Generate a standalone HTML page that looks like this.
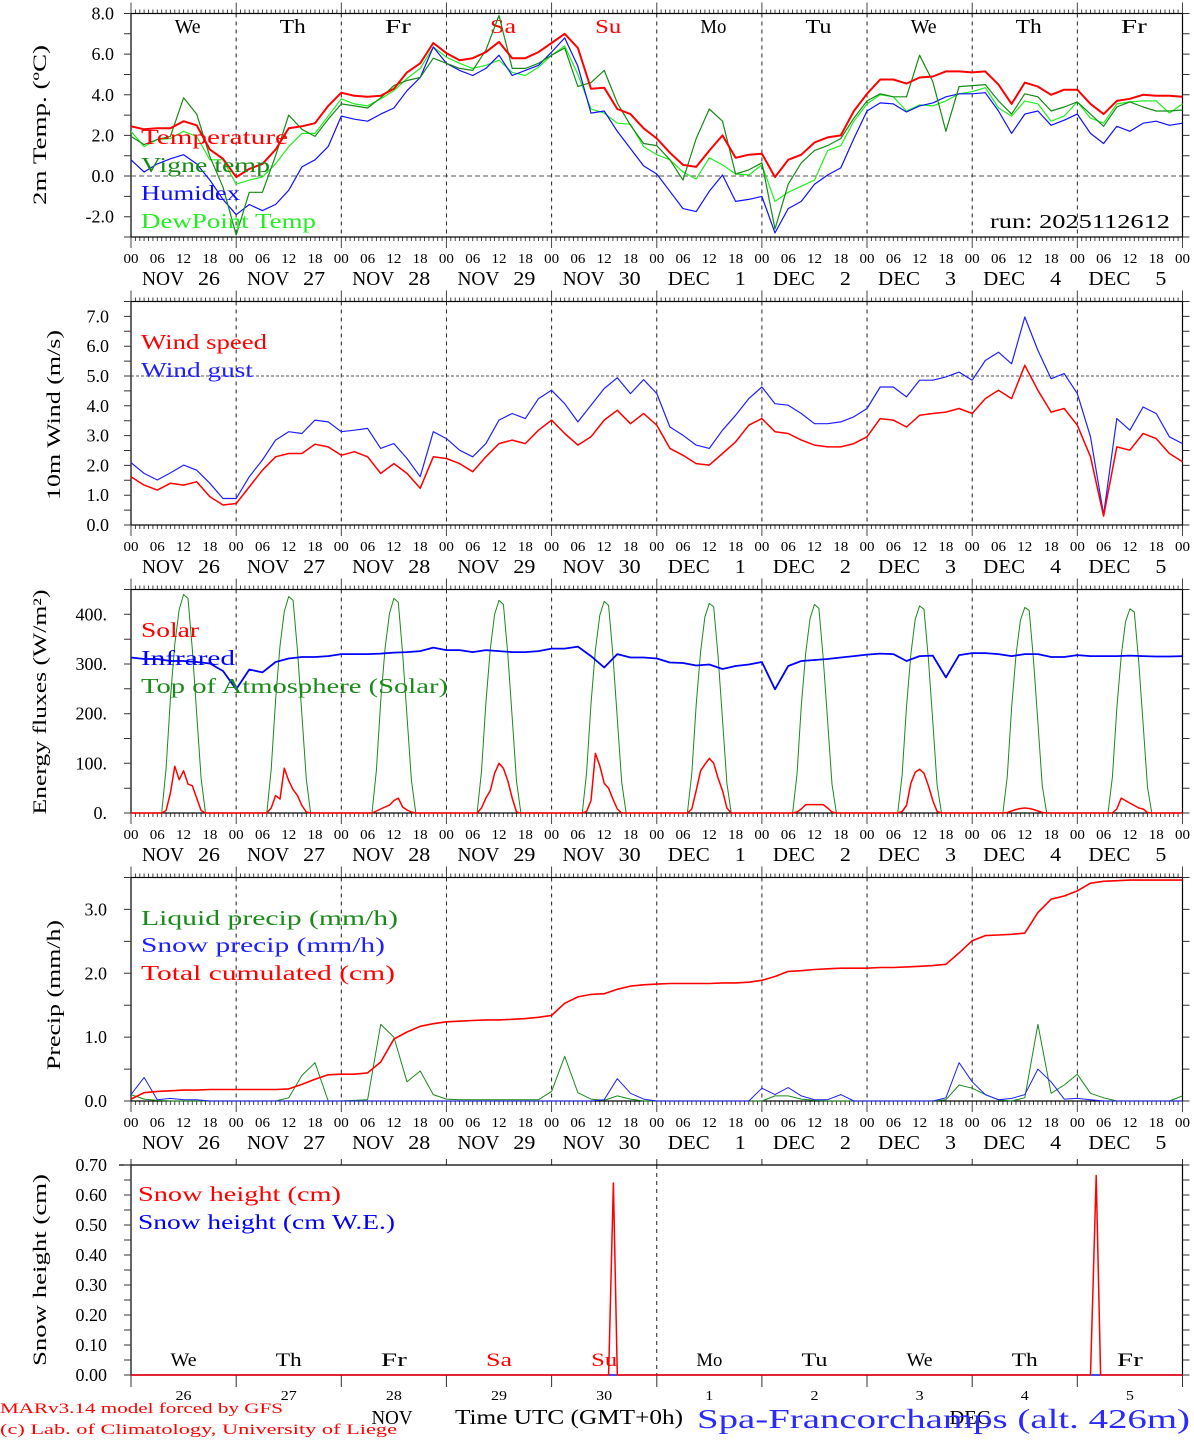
<!DOCTYPE html>
<html><head><meta charset="utf-8"><title>MAR forecast - Spa-Francorchamps</title>
<style>
html,body{margin:0;padding:0;background:#fff;}
svg{display:block;font-family:"Liberation Serif",serif;}
</style></head>
<body>
<svg id="chart" xmlns="http://www.w3.org/2000/svg" width="1194" height="1440" viewBox="0 0 1194 1440"></svg>
<script>
// ---- data (3-hourly, hours 0..240) ----
const dayNames = ["We","Th","Fr","Sa","Su","Mo","Tu","We","Th","Fr"];
const dayNameColors = ["#000","#000","#000","#f00","#f00","#000","#000","#000","#000","#000"];
const dateMonths = ["NOV","NOV","NOV","NOV","NOV","DEC","DEC","DEC","DEC","DEC"];
const dateNums = ["26","27","28","29","30","1","2","3","4","5"];
const hourTickLabels = ["00","06","12","18"];

const temperature = [2.45,2.3,2.35,2.35,2.7,2.5,1.3,0.85,
 -0.05,0.35,0.6,1.3,2.35,2.45,2.6,3.45,
 4.1,3.95,3.9,3.95,4.3,5.1,5.55,6.55,
 6.05,5.7,5.8,6.1,6.6,5.8,5.8,6.1,
 6.55,7.0,6.3,4.3,4.35,3.3,3.05,2.35,
 1.85,1.15,0.55,0.45,1.25,2.0,0.9,1.05,
 1.1,-0.05,0.8,1.05,1.65,1.9,2.0,3.2,
 4.05,4.75,4.75,4.55,4.85,4.9,5.15,5.15,
 5.1,5.15,4.5,3.55,4.6,4.4,4.0,4.25,
 4.25,3.55,3.05,3.7,3.8,4.0,3.95,3.95,3.9];
const vigneTemp = [1.95,1.55,1.8,1.95,3.85,3.05,0.95,-0.55,
 -2.9,-0.8,-0.8,1.0,3.0,2.3,1.95,2.8,
 3.55,3.45,3.35,3.85,4.45,4.7,4.85,5.8,
 5.55,5.3,5.2,6.2,7.9,5.3,5.3,5.55,
 5.95,6.3,4.4,4.6,5.2,3.6,2.5,1.6,
 1.5,0.8,-0.2,1.85,3.3,2.7,0.1,0.3,
 0.65,-2.6,-0.4,0.65,1.25,1.5,1.85,2.85,
 3.7,4.05,3.9,3.9,5.95,4.65,2.2,4.4,
 4.45,4.5,3.7,3.05,4.05,3.9,3.2,3.4,
 3.65,3.05,2.45,3.4,3.65,3.4,3.2,3.2,3.25];
const humidex = [0.8,0.2,0.6,0.85,1.05,0.6,-0.2,-1.15,
 -1.9,-1.4,-1.7,-1.4,-0.7,0.45,0.8,1.45,
 2.95,2.8,2.7,3.05,3.35,4.2,4.85,6.35,
 5.55,5.2,4.95,5.3,5.95,4.95,5.2,5.45,
 6.1,6.8,5.4,3.1,3.2,2.2,1.35,0.5,
 0.1,-0.75,-1.6,-1.75,-0.75,0.05,-1.25,-1.15,
 -1.0,-2.8,-1.6,-1.25,-0.4,0.05,0.4,1.85,
 3.2,3.6,3.55,3.15,3.45,3.6,3.9,4.05,
 4.05,4.1,3.2,2.1,3.05,3.2,2.5,2.75,
 3.05,2.1,1.6,2.45,2.2,2.6,2.7,2.5,2.6];
const dewPoint = [2.2,1.45,1.8,1.85,2.2,1.95,0.8,0.8,
 -0.4,-0.2,-0.05,0.6,1.45,2.1,2.1,2.95,
 3.8,3.55,3.45,3.8,4.2,4.8,5.3,6.35,
 5.85,5.55,5.3,5.45,5.7,5.1,4.95,5.35,
 5.95,6.4,5.0,3.3,3.1,2.6,2.55,1.45,
 1.05,0.8,0.2,-0.15,0.9,0.55,0.1,0.05,
 0.55,-1.25,-0.8,-0.5,-0.2,1.25,1.5,2.7,
 3.55,4.0,3.9,3.2,3.5,3.45,3.7,4.05,
 4.15,4.35,3.35,2.95,3.7,3.55,2.7,2.95,
 3.65,2.85,2.6,3.55,3.65,3.7,3.7,3.1,3.55];

const windSpeed = [1.62,1.34,1.17,1.4,1.34,1.45,0.95,0.67,
 0.72,1.28,1.84,2.29,2.4,2.4,2.71,2.62,
 2.34,2.46,2.29,1.73,2.06,1.73,1.23,2.29,
 2.23,2.06,1.79,2.29,2.73,2.85,2.73,3.18,
 3.52,3.07,2.68,2.96,3.52,3.85,3.4,3.74,
 3.35,2.57,2.34,2.06,2.01,2.4,2.79,3.35,
 3.57,3.13,3.07,2.85,2.68,2.62,2.62,2.73,
 2.96,3.57,3.52,3.29,3.68,3.74,3.79,3.91,
 3.74,4.24,4.52,4.24,5.36,4.52,3.79,3.91,
 3.35,2.29,0.3,2.62,2.51,3.07,2.9,2.4,2.12];
const windGust = [2.09,1.73,1.51,1.75,2.01,1.84,1.4,0.89,
 0.89,1.62,2.18,2.85,3.13,3.07,3.52,3.46,
 3.13,3.18,3.24,2.57,2.73,2.23,1.62,3.13,
 2.9,2.51,2.29,2.73,3.52,3.74,3.57,4.24,
 4.52,4.07,3.46,4.02,4.58,4.94,4.41,4.88,
 4.41,3.29,3.01,2.68,2.57,3.18,3.68,4.24,
 4.63,4.07,4.02,3.74,3.4,3.4,3.46,3.63,
 3.91,4.63,4.63,4.3,4.86,4.86,4.97,5.13,
 4.86,5.52,5.8,5.41,6.98,5.86,4.91,5.08,
 4.41,2.96,0.35,3.57,3.18,3.96,3.74,2.96,2.73];

const infrared = [313,310,310,306,306,304,301,286,
 249,289,283,304,311,314,314,316,
 320,320,320,321,323,324,326,333,
 328,328,324,328,326,324,324,326,
 331,331,335,316,293,320,313,313,
 311,303,302,297,299,290,296,299,
 304,249,296,306,308,310,313,316,
 319,321,320,306,316,317,273,318,
 322,322,320,316,320,320,314,314,
 318,316,316,316,317,316,315,315,316];
// hourly daytime values, hours 07..17 of each day (zero otherwise)
const toaByDay = [
 [0,90,230,340,410,440,432,330,200,70,0],
 [0,88,228,336,406,436,428,326,198,68,0],
 [0,86,225,332,402,432,424,322,195,66,0],
 [0,84,222,330,400,428,420,320,192,64,0],
 [0,82,220,328,398,426,418,318,190,62,0],
 [0,80,218,325,395,422,415,315,188,60,0],
 [0,78,216,322,392,420,412,312,186,58,0],
 [0,76,214,320,390,417,410,310,184,56,0],
 [0,74,212,318,388,414,408,308,182,54,0],
 [0,72,210,316,385,411,405,305,180,52,0]];
const solarByDay = [
 [0,5,40,94,67,85,58,55,30,5,0],
 [0,10,35,28,90,65,47,35,15,2,0],
 [0,4,8,12,16,25,30,12,6,2,0],
 [0,10,30,45,80,100,90,65,30,2,0],
 [0,3,25,120,95,60,50,28,8,0,0],
 [0,8,45,85,98,110,100,70,45,10,0],
 [0,2,8,17,17,17,17,17,10,2,0],
 [0,3,15,60,82,88,80,55,25,3,0],
 [0,1,4,7,9,10,9,7,4,1,0],
 [0,0,8,30,25,20,15,10,8,1,0]];

const liquidPrecip = [0.1,0.03,0.01,0,0,0,0,0,
 0,0,0,0,0.05,0.4,0.6,0,
 0,0.01,0.02,1.2,1.0,0.3,0.47,0.1,
 0.03,0.02,0.02,0.02,0.02,0.02,0.02,0.02,
 0.15,0.7,0.13,0.03,0.01,0.08,0.03,0,
 0,0,0,0,0,0,0,0,
 0,0.08,0.08,0.03,0.01,0,0,0,
 0,0,0,0,0,0,0.02,0.25,
 0.2,0.1,0.02,0,0.05,1.2,0.12,0.25,
 0.42,0.12,0.05,0,0,0,0,0,0.08];
const snowPrecip = [0.1,0.37,0.02,0.04,0.02,0.02,0,0,
 0,0,0,0,0,0,0,0,
 0,0,0,0,0,0,0,0,
 0,0,0,0,0,0,0,0,
 0,0,0,0,0.02,0.35,0.12,0.03,
 0,0,0,0,0,0,0,0,
 0.2,0.1,0.21,0.08,0.02,0.02,0.1,0,
 0,0,0,0,0,0,0.05,0.6,
 0.3,0.1,0.02,0.04,0.1,0.5,0.3,0.03,
 0.04,0.02,0,0,0,0,0,0,0];
const totalCumul = [0.03,0.13,0.15,0.16,0.17,0.17,0.18,0.18,
 0.18,0.18,0.18,0.18,0.19,0.26,0.34,0.41,
 0.42,0.42,0.44,0.61,0.97,1.08,1.17,1.21,
 1.24,1.25,1.26,1.27,1.27,1.28,1.29,1.31,
 1.34,1.53,1.63,1.67,1.68,1.75,1.8,1.82,
 1.83,1.84,1.84,1.84,1.84,1.85,1.85,1.86,
 1.89,1.95,2.03,2.04,2.06,2.07,2.08,2.08,
 2.08,2.09,2.09,2.1,2.11,2.12,2.14,2.32,
 2.51,2.59,2.6,2.61,2.63,2.95,3.16,3.21,
 3.29,3.41,3.44,3.45,3.46,3.46,3.46,3.46,3.46];

const snowTimes = [0,109,110.1,111,219,220.3,221.3,240];
const snowHeight = [0,0,0.64,0,0,0.665,0,0];
const snowWE = [0,0,0,0,0,0,0,0];

const p1Ticks = ["8.0","6.0","4.0","2.0","0.0","-2.0"];
const p2Ticks = ["7.0","6.0","5.0","4.0","3.0","2.0","1.0","0.0"];
const p3Ticks = ["400.","300.","200.","100.","0."];
const p4Ticks = ["3.0","2.0","1.0","0.0"];
const p5Ticks = ["0.70","0.60","0.50","0.40","0.30","0.20","0.10","0.00"];

// ---- drawing ----
const NS = "http://www.w3.org/2000/svg";
const svg = document.getElementById("chart");
const X0 = 131, X1 = 1182.5, HOURS = 240;
function X(h){ return X0 + h*(X1-X0)/HOURS; }
function mk(tag, attrs, parent){
  const e = document.createElementNS(NS, tag);
  for (const k in attrs) e.setAttribute(k, attrs[k]);
  (parent||svg).appendChild(e);
  return e;
}
function txt(x,y,s,size,color,anchor,len,parent){
  const a = {x:x,y:y,"font-size":size,fill:color,"text-anchor":anchor||"start"};
  if (len){ a.textLength = len; a.lengthAdjust = "spacingAndGlyphs"; }
  const t = mk("text", a, parent);
  t.textContent = s;
  return t;
}
function scale(p){ return v => p.bottom - (v - p.min)*(p.bottom - p.top)/(p.max - p.min); }

const panels = [
 {top:13.5, bottom:237, min:-3, max:8, minor:1},
 {top:301.5, bottom:525, min:0, max:7.5, minor:0.5},
 {top:589.5, bottom:813, min:0, max:450, minor:50},
 {top:877.5, bottom:1101, min:0, max:3.5, minor:0.5},
 {top:1165, bottom:1375, min:0, max:0.70, minor:0.05}
];

function drawFrame(pi, name){
  const p = panels[pi];
  const g = mk("g", {});
  
  
  const y = scale(p);
  if (pi < 4){
    // day dashed grid
    for (let d=1; d<10; d++){
      const l = mk("line",{x1:X(d*24),x2:X(d*24),y1:p.top,y2:p.bottom,stroke:"#222","stroke-width":1,"stroke-dasharray":"4,4"},g);
      
    }
    // hourly ticks top/bottom
    let dtop = "", dbot = "";
    for (let h=0; h<=HOURS; h++){
      const x = X(h).toFixed(1);
      const len = (h%24===0) ? 11 : 4;
      dtop += `M${x},${p.top}v${-len}`;
      dbot += `M${x},${p.bottom}v${len}`;
    }
    const tt = mk("path",{d:dtop+dbot,stroke:"#333","stroke-width":0.9,fill:"none"},g);
    
    const fr = mk("rect",{x:X0,y:p.top,width:X1-X0,height:p.bottom-p.top,fill:"none",stroke:"#000","stroke-width":1.2},g);
    
  } else {
    const l = mk("line",{x1:X(120),x2:X(120),y1:p.top,y2:p.bottom,stroke:"#222","stroke-width":1,"stroke-dasharray":"4,4"},g);
    
    let d = "";
    for (let dd=0; dd<=10; dd++){
      const x = X(dd*24).toFixed(1);
      d += `M${x},${p.top}v-6M${x},${p.bottom}v12`;
    }
    const tk = mk("path",{d:d,stroke:"#333","stroke-width":1,fill:"none"},g);
    
    const fr = mk("path",{d:`M${X0-12},${p.top}H${X1}V${p.bottom}H${X0}V${p.top}`,fill:"none",stroke:"#000","stroke-width":1.2},g);
    
  }
  // y ticks
  let d = "";
  for (let v=p.min; v<=p.max+1e-9; v+=p.minor){
    const yy = y(v).toFixed(1);
    d += `M${X0},${yy}h-7M${X1},${yy}h7`;
  }
  const yt = mk("path",{d:d,stroke:"#333","stroke-width":1,fill:"none"},g);
  
  return g;
}

function yLabels(pi, labels, xr, name){
  const p = panels[pi], y = scale(p);
  const g = mk("g", {});
  
  
  labels.forEach(s => {
    const t = txt(xr, y(parseFloat(s)) + 6, s, 18, "#000", "end", null, g);
    
  });
}
function yTitle(cx, cy, s, len, name){
  const t = txt(0,0,s,19,"#000","middle",len);
  t.setAttribute("transform",`translate(${cx},${cy}) rotate(-90)`);
  
  
}
function xLabels(pi, name){
  const p = panels[pi];
  const g = mk("g", {});
  
  
  for (let d=0; d<=10; d++){
    for (let k=0; k<4; k++){
      if (d===10 && k>0) break;
      const t = txt(X(d*24 + k*6), p.bottom + 26, hourTickLabels[k], 13.5, "#000", "middle", 15, g);
      
    }
  }
  for (let d=0; d<10; d++){
    const ds = X(d*24);
    const m = txt(ds+11, p.bottom + 48, dateMonths[d], 20, "#000", "start", 42, g);
    
    const n = txt(ds+89, p.bottom + 48, dateNums[d], 20, "#000", "end", dateNums[d].length*11, g);
    
  }
}
function line(pi, times, vals, color, w, name){
  const y = scale(panels[pi]);
  let d = "";
  vals.forEach((v,i) => { d += (i?"L":"M") + X(times[i]).toFixed(1) + "," + y(v).toFixed(1); });
  const l = mk("path",{d:d,fill:"none",stroke:color,"stroke-width":w,"stroke-linejoin":"round"});
  
  
}
const t3 = temperature.map((_,i)=>i*3);
function hourlyFromDays(rows){
  const out = [];
  for (let d=0; d<10; d++) for (let h=0; h<24; h++) out.push((h>=7 && h<=17) ? rows[d][h-7] : 0);
  out.push(0);
  return out;
}
const t1 = []; for (let h=0; h<=HOURS; h++) t1.push(h);

function legend(x, y, s, color, len, name){
  const t = txt(x, y, s, 21, color, "start", len);
  
  
}

// ===== Panel 1 =====
drawFrame(0, "temperature-panel");
{
  const y = scale(panels[0]);
  const z = mk("line",{x1:X0,x2:X1,y1:y(0),y2:y(0),stroke:"#555","stroke-width":1,"stroke-dasharray":"5,3"});
  
}
for (let d=0; d<10; d++){
  const t = txt(X(d*24+12)+4, 33, dayNames[d], 20, dayNameColors[d], "middle", dayNames[d].length*13);
  
}
line(0, t3, dewPoint, "#22ee22", 1.2, "dewpoint-series");
line(0, t3, humidex, "#1010ff", 1.2, "humidex-series");
line(0, t3, vigneTemp, "#168a16", 1.2, "vigne-temp-series");
line(0, t3, temperature, "#ff0000", 2, "temperature-series");
legend(141, 144, "Temperature", "#ff0000", 147, "legend-temperature");
legend(141, 172, "Vigne temp", "#168a16", 129, "legend-vigne-temp");
legend(141, 200, "Humidex", "#1010ff", 99, "legend-humidex");
legend(141, 228, "DewPoint Temp", "#22ee22", 175, "legend-dewpoint");
{ const t = txt(990, 228, "run: 2025112612", 20, "#000", "start", 180);  }
yLabels(0, p1Ticks, 114, "temperature-y-labels");
yTitle(46, 125, "2m Temp. (ºC)", 160, "temperature-y-title");
xLabels(0, "temperature-x-labels");

// ===== Panel 2 =====
drawFrame(1, "wind-panel");
{
  const y = scale(panels[1]);
  const z = mk("line",{x1:X0,x2:X1,y1:y(5),y2:y(5),stroke:"#555","stroke-width":1,"stroke-dasharray":"3,2"});
  
}
line(1, t3, windGust, "#2020ff", 1.2, "wind-gust-series");
line(1, t3, windSpeed, "#ff0000", 1.5, "wind-speed-series");
legend(141, 349, "Wind speed", "#ff0000", 126, "legend-wind-speed");
legend(141, 377, "Wind gust", "#2020ff", 112, "legend-wind-gust");
yLabels(1, p2Ticks, 109, "wind-y-labels");
yTitle(60, 415, "10m Wind (m/s)", 170, "wind-y-title");
xLabels(1, "wind-x-labels");

// ===== Panel 3 =====
drawFrame(2, "energy-panel");
line(2, t1, hourlyFromDays(toaByDay), "#1a8a1a", 1, "toa-solar-series");
line(2, t1, hourlyFromDays(solarByDay), "#ff0000", 1.5, "solar-series");
line(2, t3, infrared, "#0000ff", 1.8, "infrared-series");
legend(141, 637, "Solar", "#ff0000", 58, "legend-solar");
legend(141, 665, "Infrared", "#0000ff", 94, "legend-infrared");
legend(141, 693, "Top of Atmosphere (Solar)", "#1a8a1a", 307, "legend-toa");
yLabels(2, p3Ticks, 107, "energy-y-labels");
yTitle(46, 702, "Energy fluxes (W/m²)", 225, "energy-y-title");
xLabels(2, "energy-x-labels");

// ===== Panel 4 =====
drawFrame(3, "precip-panel");
line(3, t3, liquidPrecip, "#1a8a1a", 1, "liquid-precip-series");
line(3, t3, snowPrecip, "#2020ff", 1, "snow-precip-series");
line(3, t3, totalCumul, "#ff0000", 1.6, "total-cumulated-series");
legend(141, 925, "Liquid precip (mm/h)", "#1a8a1a", 257, "legend-liquid-precip");
legend(141, 952, "Snow precip (mm/h)", "#2020ff", 244, "legend-snow-precip");
legend(141, 980, "Total cumulated (cm)", "#ff0000", 254, "legend-total-cumulated");
yLabels(3, p4Ticks, 107, "precip-y-labels");
yTitle(60, 995, "Precip (mm/h)", 150, "precip-y-title");
xLabels(3, "precip-x-labels");

// ===== Panel 5 =====
drawFrame(4, "snow-panel");
line(4, snowTimes, snowWE, "#0000ff", 1.2, "snow-we-series");
line(4, snowTimes, snowHeight, "#ff0000", 1.5, "snow-height-series");
legend(138, 1201, "Snow height (cm)", "#ff0000", 203, "legend-snow-height");
legend(138, 1229, "Snow height (cm W.E.)", "#0000ff", 257, "legend-snow-we");
yLabels(4, p5Ticks, 107, "snow-y-labels");
yTitle(46, 1270, "Snow height (cm)", 192, "snow-y-title");
for (let d=0; d<10; d++){
  const t = txt(X(d*24+12), 1366, dayNames[d], 19, dayNameColors[d], "middle", dayNames[d].length*13);
  
  const n = txt(X(d*24+12), 1400, dateNums[d], 13.5, "#000", "middle", dateNums[d].length*8);
  
}
{ let t;
  t = txt(392, 1424, "NOV", 20, "#000", "middle", 41); 
  t = txt(970, 1424, "DEC", 20, "#000", "middle", 41); 
  t = txt(455, 1424, "Time UTC (GMT+0h)", 21, "#000", "start", 228); 
  t = txt(0, 1413, "MARv3.14 model forced by GFS", 14.5, "#ff0000", "start", 283); 
  t = txt(0, 1434, "(c) Lab. of Climatology, University of Liege", 14.5, "#ff0000", "start", 397); 
  t = txt(697, 1428, "Spa-Francorchamps (alt. 426m)", 27, "#2a2aff", "start", 493); 
}
</script>
</body></html>
